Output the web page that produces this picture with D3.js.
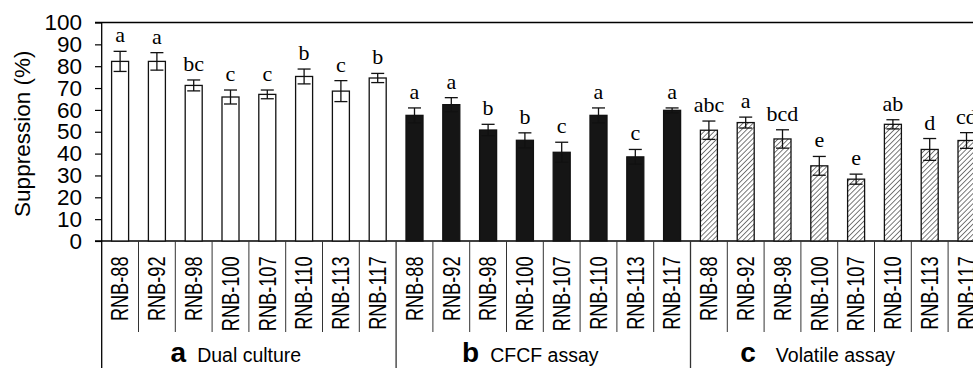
<!DOCTYPE html>
<html>
<head>
<meta charset="utf-8">
<script src="https://cdn.jsdelivr.net/npm/d3@7"></script>
<style>
  body { margin: 0; background: #fff; }
  svg { display: block; }
</style>
</head>
<body>
<svg id="chart"></svg>
<script>
// Data
const strains = ['RNB-88', 'RNB-92', 'RNB-98', 'RNB-100', 'RNB-107', 'RNB-110', 'RNB-113', 'RNB-117'];
const groupLetters = ['a', 'b', 'c'];
const groupNames = ['Dual culture', 'CFCF assay', 'Volatile assay'];

const dualMean = [82.2, 82.2, 71.2, 65.9, 67.1, 75.3, 68.6, 74.6];
const dualErr = [4.6, 4.0, 2.5, 3.2, 2.0, 3.4, 4.8, 2.1];
const dualSig = ['a', 'a', 'bc', 'c', 'c', 'b', 'c', 'b'];

const cfcfMean = [57.5, 62.4, 50.8, 46.1, 40.6, 57.5, 38.5, 59.8];
const cfcfErr = [3.4, 3.2, 2.6, 3.4, 4.6, 3.4, 3.4, 1.1];
const cfcfSig = ['a', 'a', 'b', 'b', 'c', 'a', 'c', 'a'];

const volMean = [50.7, 54.2, 46.7, 34.4, 28.3, 53.4, 41.9, 46.0];
const volErr = [4.2, 2.5, 4.2, 4.3, 2.3, 2.1, 5.0, 3.6];
const volSig = ['abc', 'a', 'bcd', 'e', 'e', 'ab', 'd', 'cd'];

const yTicks = d3.range(0, 101, 10);

// Build flat rows for drawing
const groups = [
  { mean: dualMean, err: dualErr, sig: dualSig },
  { mean: cfcfMean, err: cfcfErr, sig: cfcfSig },
  { mean: volMean, err: volErr, sig: volSig }
];
const rows = [];
groups.forEach((g, gi) => {
  strains.forEach((s, i) => {
    rows.push({ key: gi + '-' + s, strain: s, group: gi, value: g.mean[i], err: g.err[i], sig: g.sig[i] });
  });
});

const width = 973, height = 368;
const plotLeft = 101.7, plotTop = 22.5, plotBase = 241;
const step = 36.8;
const plotRight = plotLeft + rows.length * step;

const svg = d3.select('#chart').attr('width', width).attr('height', height);

const defs = svg.append('defs');
const hatch = defs.append('pattern')
  .attr('id', 'hatch')
  .attr('patternUnits', 'userSpaceOnUse')
  .attr('width', 3.6).attr('height', 3.6)
  .attr('patternTransform', 'rotate(45)');
hatch.append('rect').attr('width', 3.6).attr('height', 3.6).attr('fill', '#fff');
hatch.append('line')
  .attr('x1', 0).attr('y1', 0).attr('x2', 0).attr('y2', 3.6)
  .attr('stroke', '#222').attr('stroke-width', 1.2);

const x = d3.scaleBand()
  .domain(rows.map(d => d.key))
  .range([plotLeft, plotRight])
  .padding(0);

const y = d3.scaleLinear().domain([0, 100]).range([plotBase, plotTop]);

const barW = 17;
const fills = ['#fff', '#151515', 'url(#hatch)'];

// y axis
const yAxis = svg.append('g')
  .attr('transform', `translate(${plotLeft},0)`)
  .call(d3.axisLeft(y).tickValues(yTicks).tickSize(6.7).tickSizeOuter(0).tickPadding(13));
yAxis.select('.domain').remove();
yAxis.selectAll('line').attr('stroke', '#000').attr('stroke-width', 1.2);
yAxis.selectAll('text')
  .attr('font-family', 'Liberation Sans, Arial, sans-serif')
  .attr('font-size', 22.5)
  .attr('fill', '#000');

svg.append('text')
  .attr('transform', `translate(30,${(plotTop + plotBase) / 2 + 2}) rotate(-90)`)
  .attr('text-anchor', 'middle')
  .attr('font-family', 'Liberation Sans, Arial, sans-serif')
  .attr('font-size', 22.5)
  .text('Suppression (%)');

// frame lines
svg.append('line').attr('x1', plotLeft - 6.7).attr('x2', plotRight).attr('y1', plotTop).attr('y2', plotTop)
  .attr('stroke', '#000').attr('stroke-width', 1.3);
svg.append('line').attr('x1', plotLeft - 6.7).attr('x2', plotRight).attr('y1', plotBase).attr('y2', plotBase)
  .attr('stroke', '#000').attr('stroke-width', 1.3);
svg.append('line').attr('x1', plotLeft).attr('x2', plotLeft).attr('y1', plotTop).attr('y2', height)
  .attr('stroke', '#000').attr('stroke-width', 1.3);

// category separators under the axis
svg.selectAll('.sep')
  .data(rows.slice(1))
  .enter()
  .append('line')
    .attr('class', 'sep')
    .attr('x1', d => x(d.key)).attr('x2', d => x(d.key))
    .attr('y1', plotBase)
    .attr('y2', d => strains.indexOf(d.strain) === 0 ? height : 332)
    .attr('stroke', '#333')
    .attr('stroke-width', d => strains.indexOf(d.strain) === 0 ? 1.3 : 1);

// bars
svg.selectAll('.bar')
  .data(rows)
  .enter()
  .append('rect')
    .attr('class', 'bar')
    .attr('x', d => x(d.key) + x.bandwidth() / 2 - barW / 2)
    .attr('y', d => y(d.value))
    .attr('width', barW)
    .attr('height', d => plotBase - y(d.value))
    .attr('fill', d => fills[d.group])
    .attr('stroke', '#111')
    .attr('stroke-width', 1.3);

// error bars
const eb = svg.selectAll('.err')
  .data(rows)
  .enter()
  .append('g')
    .attr('class', 'err')
    .attr('stroke', '#111')
    .attr('stroke-width', 1.3);
eb.append('line')
  .attr('x1', d => x(d.key) + x.bandwidth() / 2)
  .attr('x2', d => x(d.key) + x.bandwidth() / 2)
  .attr('y1', d => y(d.value + d.err))
  .attr('y2', d => y(d.value - d.err));
eb.append('line')
  .attr('x1', d => x(d.key) + x.bandwidth() / 2 - 6.5)
  .attr('x2', d => x(d.key) + x.bandwidth() / 2 + 6.5)
  .attr('y1', d => y(d.value + d.err))
  .attr('y2', d => y(d.value + d.err));
eb.append('line')
  .attr('x1', d => x(d.key) + x.bandwidth() / 2 - 6.5)
  .attr('x2', d => x(d.key) + x.bandwidth() / 2 + 6.5)
  .attr('y1', d => y(d.value - d.err))
  .attr('y2', d => y(d.value - d.err));

// significance letters
svg.selectAll('.sig')
  .data(rows)
  .enter()
  .append('text')
    .attr('class', 'sig')
    .attr('x', d => x(d.key) + x.bandwidth() / 2)
    .attr('y', d => y(d.value + d.err) - 9)
    .attr('text-anchor', 'middle')
    .attr('font-family', 'Liberation Serif, Times New Roman, serif')
    .attr('font-size', 22)
    .text(d => d.sig);

// rotated strain labels
svg.selectAll('.xlab')
  .data(rows)
  .enter()
  .append('text')
    .attr('class', 'xlab')
    .attr('transform', d => `translate(${x(d.key) + x.bandwidth() / 2 + 8.3},256.5) rotate(-90) scale(0.79,1)`)
    .attr('text-anchor', 'end')
    .attr('font-family', 'Liberation Sans, Arial, sans-serif')
    .attr('font-size', 23)
    .text(d => d.strain);

// group titles
const gw = strains.length * step;
groupNames.forEach((name, gi) => {
  const t = svg.append('text')
    .attr('x', plotLeft + gi * gw + gw / 2 - (gi === 2 ? 20 : 13))
    .attr('y', 362)
    .attr('text-anchor', 'middle')
    .attr('font-family', 'Liberation Sans, Arial, sans-serif');
  t.append('tspan')
    .attr('font-size', 28)
    .attr('font-weight', 'bold')
    .text(groupLetters[gi]);
  t.append('tspan')
    .attr('dx', gi === 2 ? 20 : 11)
    .attr('font-size', 19.5)
    .text(name);
});
</script>
</body>
</html>
